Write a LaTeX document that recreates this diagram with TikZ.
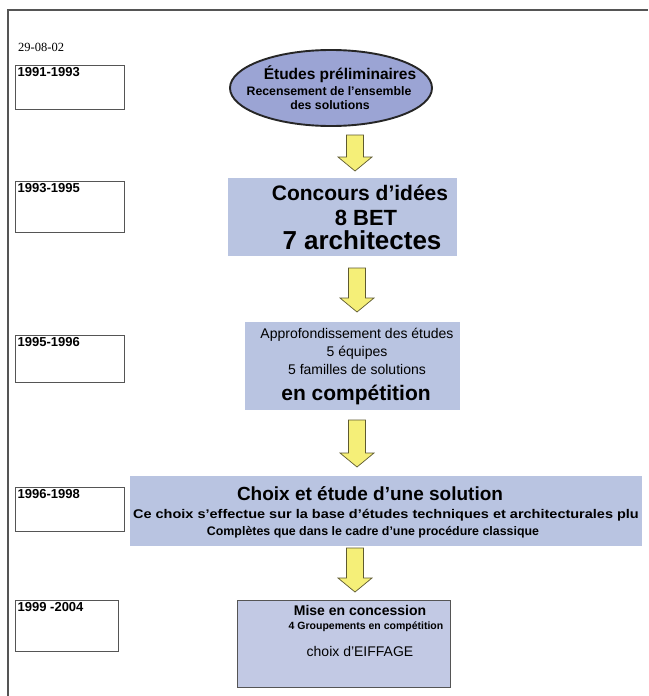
\documentclass[tikz,border=0pt]{standalone}
\usepackage{fontspec}
\setmainfont{Liberation Sans}
\newfontfamily\datefont{Liberation Serif}
\usetikzlibrary{shapes.geometric}
\definecolor{ellfill}{HTML}{9BA4D4}
\definecolor{boxfill}{HTML}{B9C4E1}
\definecolor{boxfillb}{HTML}{C2C9E4}
\definecolor{arrfill}{HTML}{F5EF78}
\definecolor{arrdraw}{HTML}{5E5A30}
\definecolor{framegray}{HTML}{555555}
\newcommand{\fs}[1]{\fontsize{#1}{#1}\selectfont}
\newcommand{\yarrow}[4]{% name, x, top, tip
  \draw[arrowshape] ({#2-8.5},#3) -- ({#2+8.5},#3) -- ({#2+8.5},{#4-14}) -- ({#2+17},{#4-14})
     -- (#2,#4) -- ({#2-17},{#4-14}) -- ({#2-8.5},{#4-14}) -- cycle;
  \coordinate (#1) at (#2,#4);}
\tikzset{
  yearbox/.style={draw=framegray, line width=0.7pt, anchor=north west,
    minimum width=109pt, minimum height=#1, inner sep=0pt},
  yeartext/.style={anchor=north west, inner sep=2.5pt, font=\bfseries\fs{13}},
  stagebox/.style={fill=boxfill, draw=none, inner sep=0pt},
  line/.style={anchor=base, inner sep=0pt},
  arrowshape/.style={draw=arrdraw, fill=arrfill, line width=0.7pt, line join=miter},
}
\begin{document}
\begin{tikzpicture}[x=1pt,y=-1pt]
\useasboundingbox (0,0) rectangle (648,696);
\fill[white] (0,0) rectangle (648,696);
% page frame
\draw[framegray, line width=1.3pt] (8,696) -- (8,10) -- (648,10);
\node[anchor=base west, inner sep=0pt, font=\datefont\fs{12.5}] (date) at (18,51) {29-08-02};

% year boxes
\node[yearbox=44pt] (y1) at (15,65) {};
\node[yeartext] (t1) at (y1.north west) {1991-1993};
\node[yearbox=51pt] (y2) at (15,181) {};
\node[yeartext] (t2) at (y2.north west) {1993-1995};
\node[yearbox=47pt] (y3) at (15,335) {};
\node[yeartext] (t3) at (y3.north west) {1995-1996};
\node[yearbox=44pt] (y4) at (15,487) {};
\node[yeartext] (t4) at (y4.north west) {1996-1998};
\node[yearbox=51pt, minimum width=103pt] (y5) at (15,600) {};
\node[yeartext] (t5) at (y5.north west) {1999 -2004};

% stage 1: ellipse
\node[ellipse, draw=black!85, line width=1.9pt, fill=ellfill,
      minimum width=202pt, minimum height=76pt, inner sep=0pt] (e1) at (331,88) {};
\node[line, font=\bfseries\fs{15.5}] (e1a) at (340,79) {Études préliminaires};
\node[line, font=\bfseries\fs{12.3}] (e1b) at (329,95) {Recensement de l’ensemble};
\node[line, font=\bfseries\fs{12.3}] (e1c) at (330,109) {des solutions};

% stage 2
\node[stagebox, minimum width=229pt, minimum height=78pt] (b2) at (342.5,217) {};
\node[line, font=\bfseries\fs{21}] (b2a) at (360,200) {Concours d’idées};
\node[line, font=\bfseries\fs{22}] (b2b) at (366,225) {8 BET};
\node[line, font=\bfseries\fs{26}] (b2c) at (362,249) {7 architectes};

% stage 3
\node[stagebox, minimum width=215pt, minimum height=88pt] (b3) at (352.5,366) {};
\node[line, font=\fs{14}] (b3a) at (357,338) {Approfondissement des études};
\node[line, font=\fs{14}] (b3b) at (357,356) {5 équipes};
\node[line, font=\fs{14}] (b3c) at (357,374) {5 familles de solutions};
\node[line, font=\bfseries\fs{21}] (b3d) at (356,400) {en compétition};

% stage 4
\node[stagebox, minimum width=512pt, minimum height=70pt] (b4) at (386,511) {};
\node[line, font=\bfseries\fs{19}] (b4a) at (370,500) {Choix et étude d’une solution};
\node[line, font=\bfseries\fs{12.6}] (b4b) at (386,518) {\scalebox{1.15}[1]{Ce choix s’effectue sur la base d’études techniques et architecturales plu}};
\node[line, font=\bfseries\fs{12.4}] (b4c) at (373,535) {Complètes que dans le cadre d’une procédure classique};

% stage 5
\node[stagebox, fill=boxfillb, draw=framegray, line width=0.8pt,
      minimum width=213pt, minimum height=87pt] (b5) at (343.5,643.5) {};
\begin{scope}
\clip (b5.south west) rectangle (b5.north east);
\node[line, font=\bfseries\fs{14}] (b5a) at (360,615) {Mise en concession};
\node[line, font=\bfseries\fs{10.5}] (b5b) at (366,629) {4 Groupements en compétition};
\node[line, font=\fs{14}] (b5c) at (360,656) {choix d'EIFFAGE};
\end{scope}

% arrows between stages
\yarrow{a1}{355}{135}{171}
\yarrow{a2}{357}{268}{312}
\yarrow{a3}{357}{420}{467}
\yarrow{a4}{355}{548}{592}
\end{tikzpicture}
\end{document}
